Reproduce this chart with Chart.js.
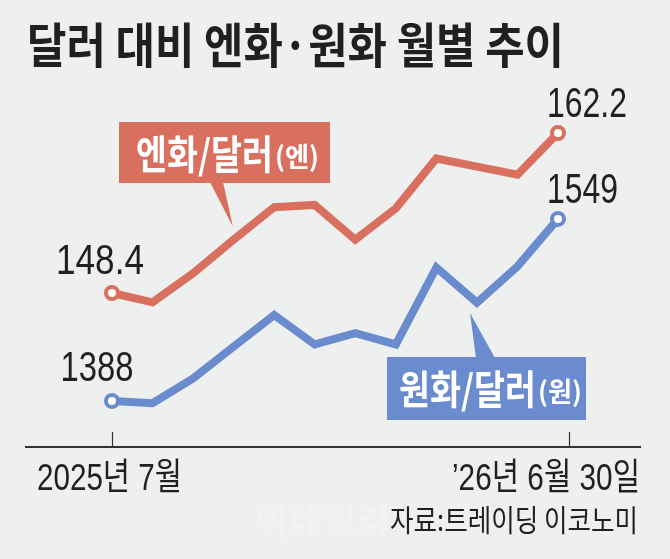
<!DOCTYPE html>
<html>
<head>
<meta charset="utf-8">
<script src="https://cdn.jsdelivr.net/npm/chart.js@4/dist/chart.umd.min.js"></script>
<style>
  html, body { margin: 0; padding: 0; background: #eeefef; }
  #wrap { width: 670px; height: 559px; }
</style>
</head>
<body>
<div id="wrap"><canvas id="fxChart" width="670" height="559"></canvas></div>
<script>
// months Jul 2025 ~ Jun 2026
const months = ['2025-07', '2025-08', '2025-09', '2025-10', '2025-11', '2025-12',
                '2026-01', '2026-02', '2026-03', '2026-04', '2026-05', '2026-06'];
const yenPerDollar = [148.4, 147.6, 150.1, 153.0, 155.8, 156.0, 153.0, 155.7, 160.0, 159.3, 158.6, 162.2];
const wonPerDollar = [1388, 1386, 1408, 1436, 1464, 1438, 1448, 1438, 1506, 1475, 1507, 1549];
const axisLabels = ['2025년 7월', '\u201926년 6월 30일'];
const axisLabelAt = [0, 11.27];

const RED = '#d9705f';
const BLUE = '#6a8ccf';
const NARROW = '"Liberation Sans", "Noto Sans CJK KR", sans-serif';
const KR = '"Noto Sans CJK KR", sans-serif';

// draw text squeezed to a given width
function fitText(ctx, text, x, y, font, color, width, align) {
  ctx.save();
  ctx.font = font;
  ctx.fillStyle = color;
  ctx.textBaseline = 'alphabetic';
  const w = ctx.measureText(text).width;
  const sx = width / w;
  let left = x;
  if (align === 'center') left = x - width / 2;
  if (align === 'right') left = x - width;
  ctx.translate(left, y);
  ctx.scale(sx, 1);
  ctx.textAlign = 'left';
  ctx.fillText(text, 0, 0);
  ctx.restore();
}

function callout(ctx, color, box, tip, base, main, sub, textX, textY) {
  ctx.save();
  ctx.fillStyle = color;
  ctx.fillRect(box[0], box[1], box[2], box[3]);
  ctx.beginPath();
  ctx.moveTo(base[0], base[2]);
  ctx.lineTo(base[1], base[2]);
  ctx.lineTo(tip[0], tip[1]);
  ctx.closePath();
  ctx.fill();
  ctx.restore();
  fitText(ctx, main, textX, textY, 'bold 40px ' + KR, '#fff', 137, 'left');
  fitText(ctx, sub, textX + 139, textY - 2, 'bold 27px ' + KR, '#fff', 44, 'left');
}

const decor = {
  id: 'decor',
  beforeDraw(chart) {
    const ctx = chart.ctx;
    ctx.save();
    ctx.fillStyle = '#eeefef';
    ctx.fillRect(0, 0, chart.width, chart.height);
    ctx.restore();
  },
  afterDatasetsDraw(chart) {
    const ctx = chart.ctx;
    const area = chart.chartArea;
    const xs = chart.scales.x;

    // title
    fitText(ctx, '달러 대비 엔화·원화 월별 추이', 27, 63, 'bold 48px ' + KR, '#231f20', 537, 'left');

    // baseline axis + ticks
    ctx.save();
    ctx.strokeStyle = '#333';
    ctx.lineWidth = 2;
    ctx.beginPath();
    ctx.moveTo(area.left, area.bottom);
    ctx.lineTo(area.right, area.bottom);
    ctx.stroke();
    ctx.lineWidth = 1.2;
    axisLabelAt.forEach(v => {
      const px = Math.round(xs.getPixelForValue(v)) + 0.5;
      ctx.beginPath();
      ctx.moveTo(px, area.bottom - 15);
      ctx.lineTo(px, area.bottom);
      ctx.stroke();
    });
    ctx.restore();

    fitText(ctx, axisLabels[0], 37, 490, '37px ' + NARROW, '#231f20', 145, 'left');
    fitText(ctx, axisLabels[1], 640, 490, '37px ' + NARROW, '#231f20', 188, 'right');
    fitText(ctx, '자료:트레이딩 이코노미', 638, 531, '30px ' + KR, '#231f20', 248, 'right');

    // watermark
    ctx.save();
    ctx.globalAlpha = 0.22;
    fitText(ctx, '이데일리', 255, 533, 'bold 34px ' + KR, '#ffffff', 135, 'left');
    ctx.restore();

    // first / last value labels
    const red = chart.getDatasetMeta(0).data;
    const blue = chart.getDatasetMeta(1).data;
    const last = red.length - 1;
    fitText(ctx, String(yenPerDollar[0]), red[0].x - 12, red[0].y - 19, '42px ' + NARROW, '#231f20', 88, 'center');
    fitText(ctx, String(wonPerDollar[0]), blue[0].x - 15, blue[0].y - 20, '42px ' + NARROW, '#231f20', 73, 'center');
    fitText(ctx, String(yenPerDollar[last]), red[last].x - 11, red[last].y - 16, '42px ' + NARROW, '#231f20', 80, 'left');
    fitText(ctx, String(wonPerDollar[last]), blue[last].x - 11, blue[last].y - 16, '42px ' + NARROW, '#231f20', 71, 'left');

    // series callouts
    callout(ctx, RED, [119, 122, 211, 61], [233, 227], [210, 223, 182], '엔화/달러', '(엔)', 136, 169);
    callout(ctx, BLUE, [387, 357, 199, 63], [470, 313], [476, 495, 358], '원화/달러', '(원)', 399, 404);
  }
};

const toPoints = arr => arr.map((v, i) => ({ x: i, y: v }));
const endPoint = ctx => (ctx.dataIndex === 0 || ctx.dataIndex === months.length - 1) ? 6 : 0;

new Chart(document.getElementById('fxChart').getContext('2d'), {
  type: 'line',
  data: {
    datasets: [{
      label: '엔화/달러(엔)',
      data: toPoints(yenPerDollar),
      yAxisID: 'yYen',
      borderColor: RED,
      borderWidth: 8,
      borderJoinStyle: 'miter',
      pointRadius: endPoint,
      pointBackgroundColor: '#fff',
      pointBorderColor: RED,
      pointBorderWidth: 4,
      tension: 0
    }, {
      label: '원화/달러(원)',
      data: toPoints(wonPerDollar),
      yAxisID: 'yWon',
      borderColor: BLUE,
      borderWidth: 8,
      borderJoinStyle: 'miter',
      pointRadius: endPoint,
      pointBackgroundColor: '#fff',
      pointBorderColor: BLUE,
      pointBorderWidth: 4,
      tension: 0
    }]
  },
  options: {
    responsive: false,
    animation: false,
    layout: { padding: { left: 25, right: 29, top: 80, bottom: 112 } },
    plugins: { legend: { display: false }, tooltip: { enabled: false } },
    scales: {
      x: { type: 'linear', display: false, min: -2.145, max: 13.047 },
      yYen: { display: false, min: 135.12, max: 166.77 },
      yWon: { display: false, min: 1347.3, max: 1671.9 }
    }
  },
  plugins: [decor]
});
</script>
</body>
</html>
